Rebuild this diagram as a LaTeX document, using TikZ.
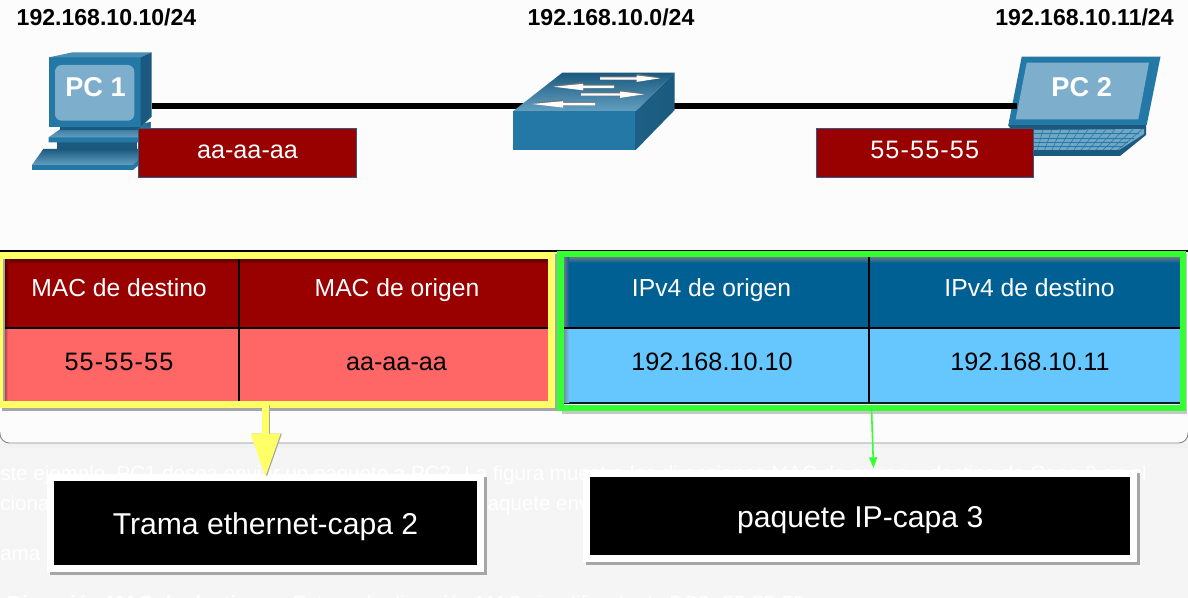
\documentclass[tikz,border=0pt]{standalone}
\usepackage{fontspec}
\usetikzlibrary{arrows.meta}
\setmainfont{Liberation Sans}
\newfontfamily\wideface[LetterSpace=4.5]{Liberation Sans}
\definecolor{bgA}{HTML}{FCFCFC}
\definecolor{bgB}{HTML}{F5F5F5}
\definecolor{ciscoblue}{HTML}{2478A6}
\definecolor{ciscodark}{HTML}{1B5A7E}
\definecolor{ciscolight}{HTML}{7DAFCC}
\definecolor{macedge}{HTML}{2E5A88}
\definecolor{darkred}{HTML}{990000}
\definecolor{lightred}{HTML}{FF6666}
\definecolor{darkblue}{HTML}{006094}
\definecolor{lightblue}{HTML}{66C7FF}
\definecolor{ylw}{HTML}{FFFF66}
\definecolor{grn}{HTML}{33FF33}
\tikzset{
 x=0.75pt,y=-0.75pt,
 addr/.style={font=\fontsize{17.3}{20}\selectfont\bfseries,text=black,inner sep=0},
 mac/.style={fill=darkred,draw=macedge,line width=0.8pt,text=white,font=\fontsize{18.9}{22}\selectfont,minimum width=163pt,minimum height=37pt,inner sep=0,text height=8.5pt,text depth=0pt},
 hd/.style={text=white,font=\fontsize{18.5}{22}\selectfont,inner sep=0,anchor=base},
 val/.style={text=black,font=\fontsize{18.9}{22}\selectfont,inner sep=0,anchor=base},
 callout/.style={fill=black,draw=white,line width=5.25pt,text=white,font=\fontsize{22.6}{26}\selectfont,inner sep=0,outer sep=0,text height=22pt,text depth=5.25pt},
 hframe/.style={draw,line width=5.1pt,inner sep=0,outer sep=0},
 faint/.style={text=white,font=\fontsize{15.4}{19}\selectfont,anchor=base west,inner sep=0},
 pclabel/.style={text=white,font=\fontsize{20.4}{25}\selectfont\bfseries,inner sep=0},
}
\begin{document}
\begin{tikzpicture}
\useasboundingbox (0,0) rectangle (1188,598);
\fill[bgB] (0,0) rectangle (1188,598);
\fill[black!5] (0,443) rectangle (1188,448);
\fill[bgA,rounded corners=7pt] (0,-20) rectangle (1188,443);
\draw[black!45,line width=0.7pt,rounded corners=7pt] (0,432) -- (0,443) -- (1188,443) -- (1188,432);
% faint page text behind the figure
\node[faint] (t1) at (0,480) {ste ejemplo, PC1 desea enviar un paquete a PC2. La figura muestra las direcciones MAC de origen y destino de Capa 2 en el};
\node[faint] (t2) at (0,510) {cionadas};
\node[faint] (t3) at (476,510) {paquete enviado};
\node[faint] (t4) at (0,560) {ama Ethernet};
\node[faint,font=\fontsize{15.4}{19}\selectfont\bfseries] (t5) at (7,610) {Dirección MAC de destino};
\node[faint] (t6) at (280,610) {- Esta es la dirección MAC simplificada de PC2: 55-55-55};

% PC1
\fill[ciscoblue] (32,165) -- (32,170) -- (133,170) -- (140,164) -- (140,160) -- cycle;
\shade[top color=ciscodark,bottom color=ciscolight!70!ciscoblue] (32,165) -- (43.3,149) -- (140,149) -- (140,158) -- (133,165) -- cycle;
\fill[ciscodark] (57.3,142) rectangle (137,149);
\fill[ciscoblue] (48.7,137.3) -- (48.7,142.3) -- (138,142.3) -- (150.7,130) -- (150.7,122) -- cycle;
\shade[top color=ciscodark,bottom color=ciscolight!70!ciscoblue] (48.7,137.3) -- (60,129.3) -- (140,129) -- (150.7,122) -- (150.7,128) -- (138,137.3) -- cycle;
\fill[ciscodark] (60,126) rectangle (140,130);
\fill[ciscoblue] (49.3,57.3) rectangle (140.7,126.7);
\fill[ciscolight!40!ciscoblue] (49.3,57.3) -- (72.7,52.3) -- (151.7,52.3) -- (140.7,57.3) -- cycle;
\fill[ciscodark] (140.7,57.3) -- (151.7,52.3) -- (151.7,116.7) -- (140.7,126.7) -- cycle;
\fill[ciscolight,rounded corners=5pt] (55,65) rectangle (134.3,120.7);
\node[pclabel] (pca) at (95.5,87) {PC 1};

% PC2
\fill[ciscodark] (1008,125) -- (1146,125) -- (1146,135) -- (1120,156) -- (1030,156) -- cycle;
\fill[ciscolight!85!ciscoblue] (1030,130) -- (1144,129) -- (1144,134) -- (1119,150) -- (1030,150) -- cycle;
\foreach \t in {0.2,0.4,0.6,0.8}{\draw[ciscoblue,line width=0.4pt] (1030,129.5+\t*21) -- (1144-\t*26,129.5+\t*21);}
\foreach \t in {1,...,12}{\draw[ciscoblue,line width=0.4pt] (1034+\t*9,129.5) -- (1030+\t*7.3,150);}
\fill[ciscoblue] (1008.3,125) -- (1021.7,56.7) -- (1160.5,56.7) -- (1146.7,125) -- cycle;
\fill[ciscolight] (1015.7,119.3) -- (1026.7,62.7) -- (1149,62.7) -- (1138.3,119.3) -- cycle;
\node[pclabel] (pcb) at (1081.7,87) {PC 2};

% switch
\coordinate (swL) at (560,106);
\coordinate (swR) at (660,106);
\coordinate (pcaR) at (151.7,106);
\coordinate (pcbL) at (1017,106);
\draw[black,line width=4.1pt] (pcaR) -- (swL);
\draw[black,line width=4.1pt] (swR) -- (pcbL);
\fill[ciscoblue] (513.3,111) rectangle (635.7,150);
\shade[left color=ciscodark!80!ciscoblue,right color=ciscodark] (635.7,111) -- (674.7,72.7) -- (674.7,110) -- (635.7,150) -- cycle;
\shade[top color=ciscodark,bottom color=ciscolight!70!ciscoblue] (513.3,111) -- (562.3,72.7) -- (674.7,72.7) -- (635.7,111) -- cycle;
\foreach \ax/\ay/\bx/\hx in {600/78.3/660/636.7,614/86.7/553.3/583,581/94.3/644/620,595/104/531.7/563}{
  \fill[black!55] (\ax,\ay-2) -- (\hx,\ay-2) -- (\hx,\ay-4.5) -- (\bx,\ay-0.8) -- (\hx,\ay+2) -- (\ax,\ay+1) -- cycle;
  \fill[white] (\ax,\ay-1) -- (\hx,\ay-1) -- (\hx,\ay-2.8) -- (\bx,\ay) -- (\hx,\ay+3.6) -- (\hx,\ay+1.4) -- (\ax,\ay+1.4) -- cycle;
}

% MAC labels
\node[mac] (maca) at (247.5,153.3) {aa-aa-aa};
\node[mac] (macb) at (924.7,153.3) {\wideface 55-55-55};

% addresses
\node[addr] (ipa) at (106.5,17) {192.168.10.10/24};
\node[addr] (ipn) at (611,17) {192.168.10.0/24};
\node[addr] (ipb) at (1084.5,17) {192.168.10.11/24};

% table
\draw[black,line width=0.8pt] (0,251) -- (1188,251);
\fill[black!35] (2,254) rectangle (557,410.5);
\fill[black!22] (562,254) rectangle (1187,414);
\fill[darkred] (5,259) rectangle (551,328);
\fill[lightred] (5,328) rectangle (551,402);
\fill[white] (564,257) rectangle (1181,405);
\fill[darkblue] (564,257) rectangle (1181,328);
\fill[lightblue] (564,328) rectangle (1181,402);
\fill[black!70!darkblue] (564,402) rectangle (1181,403.6);
\shade[top color=black!45!darkred,bottom color=darkred] (5,259) rectangle (551,263.5);
\shade[left color=black!45!darkred,right color=darkred] (5,259) rectangle (9,328);
\shade[left color=black!30!lightred,right color=lightred] (5,328) rectangle (8,402);
\shade[top color=gray!80!darkblue,bottom color=darkblue] (564,257) rectangle (1181,263);
\shade[left color=gray!80!darkblue,right color=darkblue] (564,257) rectangle (569,328);
\shade[left color=gray!80!lightblue,right color=lightblue] (564,328) rectangle (569,402);
\draw[black,line width=0.8pt] (5,328) -- (551,328);
\draw[black,line width=0.8pt] (564,328) -- (1181,328);
\draw[black,line width=0.8pt] (239,259) -- (239,402);
\draw[black,line width=0.8pt] (869,257) -- (869,403);

\node[hd] (h1) at (119,297) {MAC de destino};
\node[hd] (h2) at (397,297) {MAC de origen};
\node[hd] (h3) at (711.5,297) {IPv4 de origen};
\node[hd] (h4) at (1029.5,297) {IPv4 de destino};
\node[val] (v1) at (119,371) {\wideface 55-55-55};
\node[val] (v2) at (396.5,371) {aa-aa-aa};
\node[val] (v3) at (712,371) {192.168.10.10};
\node[val] (v4) at (1030,371) {192.168.10.11};

% highlight frames
\node[hframe,draw=ylw,minimum width=413.6pt,minimum height=111.75pt] (yf) at (275.75,330) {};
\node[hframe,draw=grn,minimum width=466.9pt,minimum height=115.5pt] (gf) at (871.75,331) {};

% callouts
\fill[black!35] (50,477) rectangle (486.5,574.5);
\fill[black!35] (586,473) rectangle (1139.5,564.5);
\node[callout,minimum width=322.5pt,minimum height=68.25pt] (cb1) at (265.5,523) {Trama ethernet-capa 2};
\node[callout,minimum width=410pt,minimum height=63.75pt] (cb2) at (860.25,516) {paquete IP-capa 3};

% connectors
\coordinate (ya) at (yf.south -| cb1.north);
\coordinate (gb) at (873.5,468);
\coordinate (ga) at (871.5,408);
\draw[black!35,line width=5.25pt,-{Triangle[length=33pt,width=21pt]}] ([xshift=1pt]ya) -- ([xshift=1pt]cb1.north);
\draw[ylw,line width=5.25pt,-{Triangle[length=33pt,width=21pt]}] (ya) -- (cb1.north);
\draw[grn,line width=1.2pt,-{Triangle[length=8pt,width=6pt]}] (ga) -- (gb);
\end{tikzpicture}
\end{document}
